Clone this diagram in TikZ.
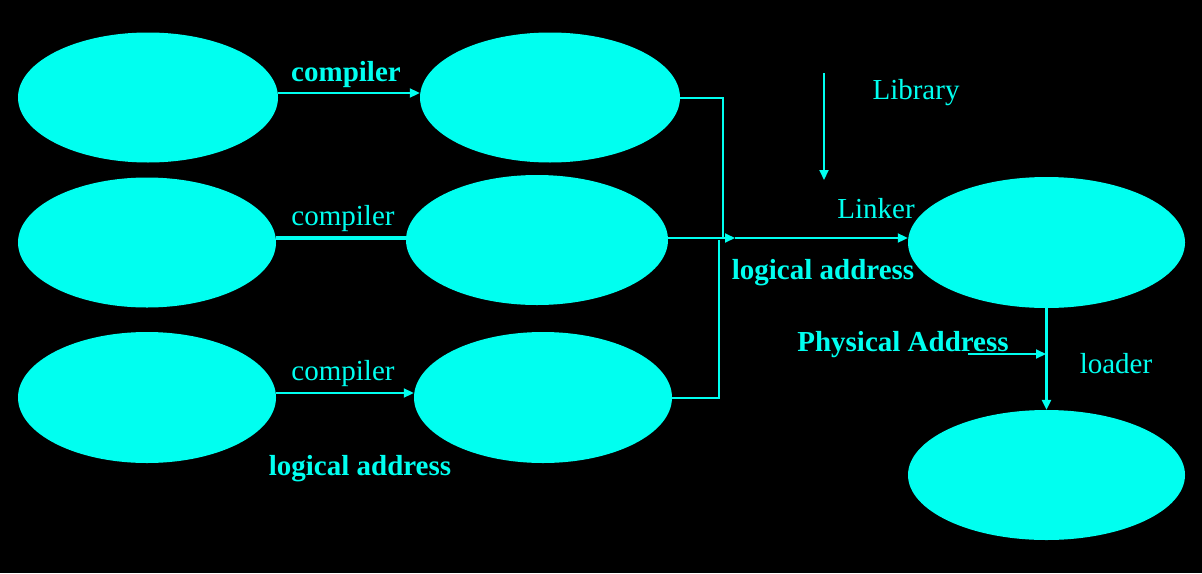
\documentclass[tikz,border=0pt]{standalone}
\usepackage{fontspec}
\setmainfont{Liberation Serif}
\usetikzlibrary{shapes.geometric,arrows.meta}
\definecolor{aqua}{RGB}{0,255,240}
\tikzset{
  blob/.style={ellipse,fill=aqua,draw=none,inner sep=0pt,minimum width=260pt,minimum height=130pt},
  lbl/.style={text=aqua,inner sep=0pt,font=\fontsize{29}{33}\selectfont},
  blbl/.style={lbl,font=\fontsize{29}{33}\selectfont\bfseries},
  conn/.style={draw=aqua,line width=2pt},
  tip/.style={-{Triangle[length=10pt,width=9pt]}}
}
\begin{document}
\begin{tikzpicture}[x=1pt,y=-1pt]
\fill[black] (0,0) rectangle (1202,573);
\useasboundingbox (0,0) rectangle (1202,573);
% ellipses
\node[blob] (e1) at (148,97.5) {};
\node[blob] (e2) at (550,97.5) {};
\node[blob,minimum width=258pt] (e3) at (147,242.5) {};
\node[blob,minimum width=262pt] (e4) at (537,240) {};
\node[blob,minimum width=258pt,minimum height=131pt] (e5) at (147,397.5) {};
\node[blob,minimum width=258pt,minimum height=131pt] (e6) at (543,397.5) {};
\node[blob,minimum width=277pt,minimum height=131pt] (e7) at (1046.5,242.5) {};
\node[blob,minimum width=277pt] (e8) at (1046.5,475) {};
% labels
\node[blbl] (c1) at (346,75) {compiler};
\node[lbl] (c2) at (343,219) {compiler};
\node[lbl] (c3) at (343,374) {compiler};
\node[blbl] (la1) at (360,469) {logical address};
\node[lbl] (lib) at (916,93) {Library};
\node[lbl] (lnk) at (876,209) {Linker};
\node[blbl] (la2) at (823,273) {logical address};
\node[blbl] (pa) at (903,345) {Physical Address};
\node[lbl] (ld) at (1116,364) {loader};
% helper coordinates
\coordinate (r1) at (0,93);
\coordinate (r3) at (0,393);
\coordinate (j1) at (723,238);
\coordinate (j2) at (719,240);
\coordinate (j3) at (735,238);
\coordinate (libs) at (824,73);
\coordinate (libe) at (824,180);
\coordinate (pas) at (968,354);
\coordinate (pae) at (1046,354);
% connectors
\draw[conn,tip] (e1.east |- r1) -- (e2.west |- r1);
\draw[conn,line width=4pt] (e3.east |- j3) -- (e4.west |- j3);
\draw[conn,tip] (e5.east |- r3) -- (e6.west |- r3);
\draw[conn] (e2.east) -| (j1);
\draw[conn] (e6.east) -| (j2);
\draw[conn,tip] (e4.east |- j3) -- (j3);
\draw[conn,tip] (j3) -- (e7.west |- j3);
\draw[conn,tip] (libs) -- (libe);
\draw[conn,tip] (pas) -- (pae);
\draw[conn,line width=3pt,tip] (e7.south) -- (e8.north);
\end{tikzpicture}
\end{document}
